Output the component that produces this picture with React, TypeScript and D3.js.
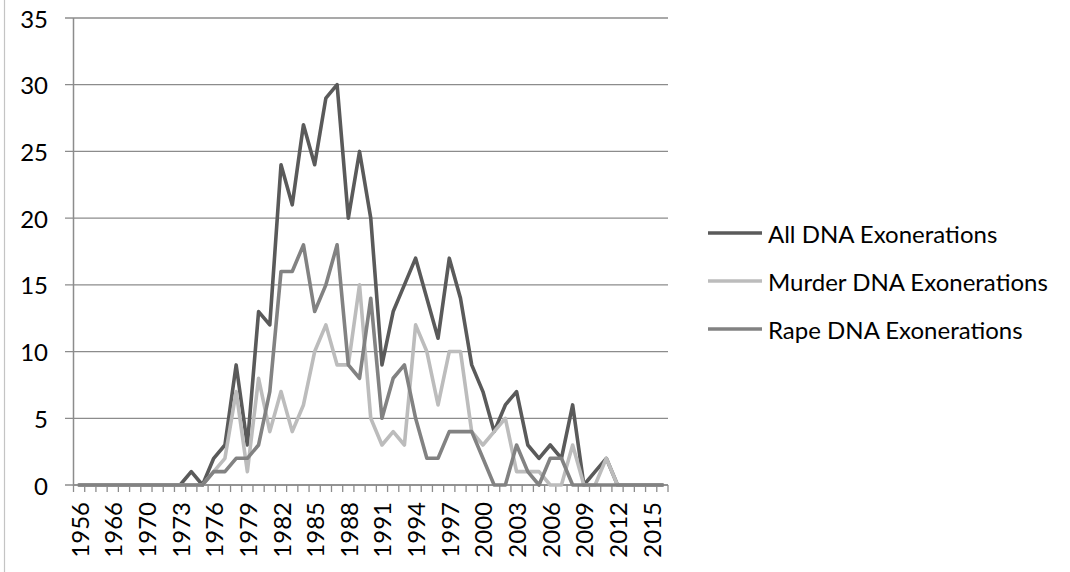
import React from "react";
import * as d3 from "d3";

const years = [
  "1956", "1964", "1965", "1966", "1968", "1969", "1970", "1971", "1972", "1973",
  "1974", "1975", "1976", "1977", "1978", "1979", "1980", "1981", "1982", "1983",
  "1984", "1985", "1986", "1987", "1988", "1989", "1990", "1991", "1992", "1993",
  "1994", "1995", "1996", "1997", "1998", "1999", "2000", "2001", "2002", "2003",
  "2004", "2005", "2006", "2007", "2008", "2009", "2010", "2011", "2012", "2013",
  "2014", "2015", "2016",
];

const allDNA = [
  0, 0, 0, 0, 0, 0, 0, 0, 0, 0,
  1, 0, 2, 3, 9, 3, 13, 12, 24, 21,
  27, 24, 29, 30, 20, 25, 20, 9, 13, 15,
  17, 14, 11, 17, 14, 9, 7, 4, 6, 7,
  3, 2, 3, 2, 6, 0, 1, 2, 0, 0,
  0, 0, 0,
];

const murderDNA = [
  0, 0, 0, 0, 0, 0, 0, 0, 0, 0,
  0, 0, 1, 2, 7, 1, 8, 4, 7, 4,
  6, 10, 12, 9, 9, 15, 5, 3, 4, 3,
  12, 10, 6, 10, 10, 4, 3, 4, 5, 1,
  1, 1, 0, 0, 3, 0, 0, 2, 0, 0,
  0, 0, 0,
];

const rapeDNA = [
  0, 0, 0, 0, 0, 0, 0, 0, 0, 0,
  0, 0, 1, 1, 2, 2, 3, 7, 16, 16,
  18, 13, 15, 18, 9, 8, 14, 5, 8, 9,
  5, 2, 2, 4, 4, 4, 2, 0, 0, 3,
  1, 0, 2, 2, 0, 0, 0, 0, 0, 0,
  0, 0, 0,
];

const yTicks = [0, 5, 10, 15, 20, 25, 30, 35];

const seriesNames = ["All DNA Exonerations", "Murder DNA Exonerations", "Rape DNA Exonerations"];
const seriesColors = ["#5a5a5a", "#bcbcbc", "#828282"];

const W = 1070;
const H = 572;
const left = 73.5;
const right = 668;
const top = 18;
const bottom = 485;
const font = "Lato, 'Open Sans', sans-serif";

export default function App() {
  const x = d3
    .scaleBand<string>()
    .domain(years)
    .range([left, right])
    .paddingInner(0)
    .paddingOuter(0);
  const y = d3.scaleLinear().domain([0, 35]).range([bottom, top]);
  const bw = x.bandwidth();

  const line = d3
    .line<number>()
    .x((_, i) => (x(years[i]) as number) + bw / 2)
    .y((d) => y(d));

  const series = [allDNA, murderDNA, rapeDNA];
  const boundaries = d3.range(years.length + 1).map((i) => left + i * bw);

  return (
    <svg
      width={W}
      height={H}
      style={{ position: "absolute", left: 0, top: 0, background: "#fff" }}
    >
      <rect x={0} y={0} width={W} height={H} fill="#fff" />
      <line x1={4.5} x2={4.5} y1={0} y2={H} stroke="#c4c4c4" strokeWidth={1.2} />

      {yTicks.map((t) => (
        <line
          key={"g" + t}
          x1={65}
          x2={right}
          y1={y(t)}
          y2={y(t)}
          stroke="#8c8c8c"
          strokeWidth={1.3}
        />
      ))}
      <line x1={left} x2={left} y1={top} y2={bottom + 1} stroke="#8c8c8c" strokeWidth={1.5} />
      {yTicks.map((t) => (
        <text
          key={"yl" + t}
          x={48}
          y={y(t)}
          textAnchor="end"
          dominantBaseline="central"
          fontFamily={font}
          fontSize={24}
          fill="#000"
        >
          {t}
        </text>
      ))}

      <line x1={left} x2={right} y1={bottom} y2={bottom} stroke="#8c8c8c" strokeWidth={1.5} />
      {boundaries.map((bx, i) => (
        <line
          key={"xt" + i}
          x1={bx}
          x2={bx}
          y1={bottom}
          y2={bottom + 7}
          stroke="#8c8c8c"
          strokeWidth={1.3}
        />
      ))}
      {years.map((yr, i) =>
        i % 3 === 0 ? (
          <text
            key={"xl" + yr}
            transform={`translate(${(x(yr) as number) + bw / 2},${502}) rotate(-90)`}
            textAnchor="end"
            dominantBaseline="central"
            fontFamily={font}
            fontSize={24}
            fill="#000"
          >
            {yr}
          </text>
        ) : null
      )}

      {series.map((s, k) => (
        <path
          key={"s" + k}
          d={line(s) || ""}
          fill="none"
          stroke={seriesColors[k]}
          strokeWidth={3.6}
          strokeLinejoin="round"
          strokeLinecap="round"
        />
      ))}

      {seriesNames.map((n, k) => (
        <g key={"lg" + k} transform={`translate(0,${233 + k * 48})`}>
          <line x1={708} x2={762} y1={0} y2={0} stroke={seriesColors[k]} strokeWidth={3.4} />
          <text
            x={768}
            y={0}
            dominantBaseline="central"
            fontFamily={font}
            fontSize={24}
            fill="#000"
          >
            {n}
          </text>
        </g>
      ))}
    </svg>
  );
}
